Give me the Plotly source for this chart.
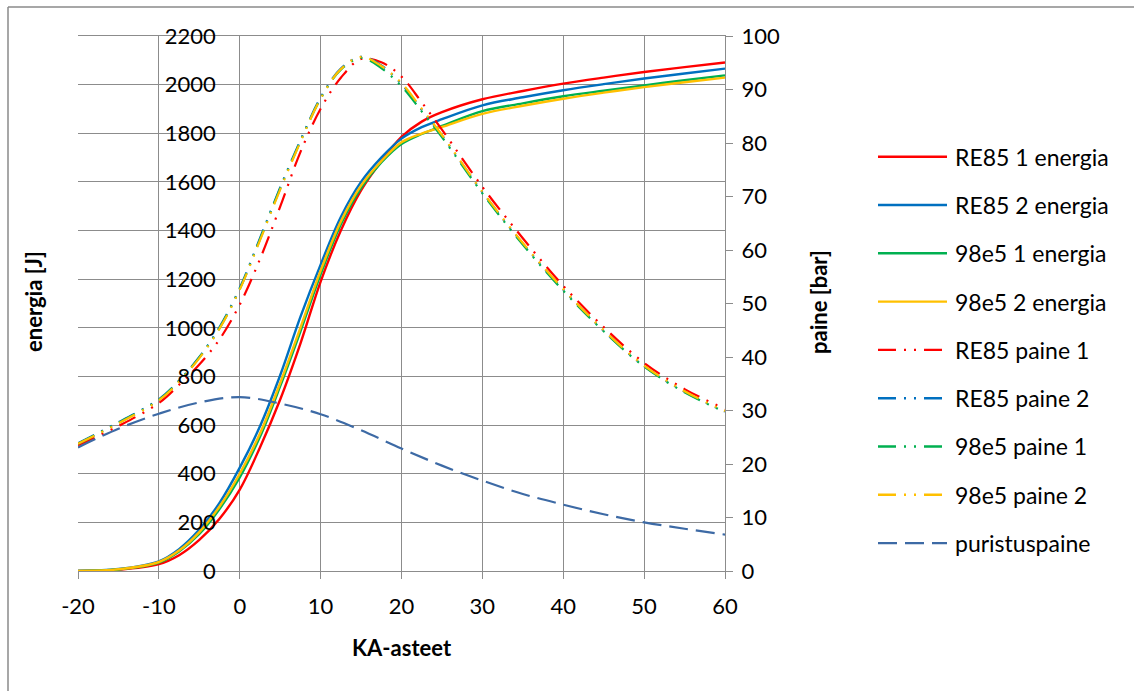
import plotly.graph_objects as go

# ---------------- data ----------------
ka = [-20, -15, -10, -7.5, -5, -2.5, 0, 2.5, 5, 7.5, 10, 12.5, 15, 17.5, 20,
      22.5, 25, 30, 35, 40, 45, 50, 55, 60]

re85_1_energia = [0, 5, 28, 65, 128, 215, 335, 508, 705, 935, 1190, 1400, 1565, 1685, 1785,
                  1848, 1887, 1940, 1974, 2004, 2029, 2052, 2072, 2091]
re85_2_energia = [0, 8, 40, 90, 170, 280, 425, 595, 805, 1045, 1260, 1456, 1600, 1700, 1778,
                  1825, 1858, 1915, 1948, 1977, 2002, 2025, 2046, 2066]
e98_1_energia = [0, 6, 34, 80, 152, 255, 385, 552, 760, 985, 1220, 1425, 1575, 1680, 1756,
                 1797, 1830, 1891, 1923, 1952, 1975, 1997, 2018, 2038]
e98_2_energia = [0, 7, 37, 84, 160, 265, 400, 565, 773, 1000, 1235, 1437, 1585, 1685, 1763,
                 1799, 1826, 1880, 1913, 1942, 1967, 1990, 2010, 2029]

re85_paine_1 = [23.5, 27.1, 31.4, 34.8, 38.6, 43.3, 49.8, 58.3, 68.1, 78.3, 86.4, 92.2, 95.7,
                95.1, 92.4, 87.6, 82.5, 71.8, 62.2, 53.3, 45.6, 38.9, 34.0, 30.3]
re85_paine_2 = [23.9, 27.8, 32.1, 35.6, 40.0, 45.6, 52.9, 62.2, 71.7, 80.5, 88.5, 93.9, 96.1,
                94.5, 91.0, 86.2, 81.4, 70.8, 61.2, 52.6, 44.9, 38.3, 33.5, 29.8]
e98_paine_1 = [23.8, 27.7, 32.0, 35.5, 39.9, 45.4, 52.7, 62.0, 71.5, 80.3, 88.3, 93.7, 95.9,
               94.0, 90.6, 85.9, 81.1, 70.6, 61.0, 52.4, 44.8, 38.2, 33.4, 29.7]
e98_paine_2 = [23.8, 27.6, 31.9, 35.4, 39.8, 45.3, 52.6, 61.8, 71.3, 80.2, 88.3, 93.8, 96.1,
               94.4, 91.2, 86.4, 81.5, 70.9, 61.3, 52.7, 45.0, 38.4, 33.6, 29.9]

ka_p = [-20, -15, -10, -5, 0, 5, 10, 15, 20, 25, 30, 35, 40, 45, 50, 55, 60]
puristuspaine = [23.1, 26.6, 29.4, 31.5, 32.5, 31.3, 29.3, 26.3, 22.9, 19.7, 16.9, 14.4,
                 12.4, 10.6, 9.1, 7.9, 6.8]

x_ticks = [-20, -10, 0, 10, 20, 30, 40, 50, 60]

# ---------------- styling ----------------
RED, BLUE, GREEN, YELLOW, PBLUE = "#FF0000", "#0070C0", "#00B050", "#FFC000", "#3D6AA5"
GRID = "#8C8C8C"
FONT = "Lato, 'Open Sans', sans-serif"
FS = 22
LEG_FS = 23
DASHDOTDOT = "18px,8px,2px,8px,2px,8px"
LONGDASH = "19px,8px"

W, H = 1134, 691
ML, MR, MT, MB = 78, 409, 36, 120
PW, PH = W - ML - MR, H - MT - MB


def px(x):
    return (x - ML) / PW


def py(y):
    return (H - MB - y) / PH


series = [
    ("RE85 1 energia", ka, re85_1_energia, RED, "solid", "y"),
    ("RE85 2 energia", ka, re85_2_energia, BLUE, "solid", "y"),
    ("98e5 1 energia", ka, e98_1_energia, GREEN, "solid", "y"),
    ("98e5 2 energia", ka, e98_2_energia, YELLOW, "solid", "y"),
    ("RE85 paine 1", ka, re85_paine_1, RED, DASHDOTDOT, "y2"),
    ("RE85 paine 2", ka, re85_paine_2, BLUE, DASHDOTDOT, "y2"),
    ("98e5 paine 1", ka, e98_paine_1, GREEN, DASHDOTDOT, "y2"),
    ("98e5 paine 2", ka, e98_paine_2, YELLOW, DASHDOTDOT, "y2"),
    ("puristuspaine", ka_p, puristuspaine, PBLUE, LONGDASH, "y2"),
]

fig = go.Figure()
for name, xs, ys, col, dash, ax in series:
    fig.add_trace(go.Scatter(
        x=xs, y=ys, name=name, mode="lines", yaxis=ax,
        line=dict(color=col, width=2.4 if dash == "solid" else 2.2, dash=dash,
                  shape="spline", smoothing=1.0),
        showlegend=False, hoverinfo="x+y+name"))

# manual legend (Excel-like long sample lines)
shapes = []
annotations = []
leg_y0, leg_step = 156.7, 48.3
for i, (name, xs, ys, col, dash, ax) in enumerate(series):
    yy = py(leg_y0 + i * leg_step)
    shapes.append(dict(type="line", xref="paper", yref="paper",
                       x0=px(878), x1=px(947), y0=yy, y1=yy,
                       line=dict(color=col, width=2.4, dash=dash)))
    annotations.append(dict(xref="paper", yref="paper", x=px(953), y=yy,
                            xanchor="left", yanchor="middle", showarrow=False,
                            text=name, font=dict(family=FONT, size=LEG_FS, color="#000")))

# outer chart border: only the left and top edges fall inside the captured area
shapes.append(dict(type="line", xref="paper", yref="paper", layer="below",
                   x0=px(8), x1=px(8), y0=py(7), y1=py(H + 5),
                   line=dict(color="#8A8A8A", width=1.5)))
shapes.append(dict(type="line", xref="paper", yref="paper", layer="below",
                   x0=px(8), x1=px(W + 5), y0=py(7), y1=py(7),
                   line=dict(color="#8A8A8A", width=1.5)))

# axis titles
annotations += [
    dict(xref="paper", yref="paper", x=px(33), y=py(302), text="<b>energia [J]</b>",
         textangle=-90, showarrow=False, xanchor="center", yanchor="middle",
         font=dict(family=FONT, size=FS, color="#000")),
    dict(xref="paper", yref="paper", x=px(818), y=py(302), text="<b>paine [bar]</b>",
         textangle=-90, showarrow=False, xanchor="center", yanchor="middle",
         font=dict(family=FONT, size=FS, color="#000")),
    dict(xref="paper", yref="paper", x=px(401.5), y=py(647), text="<b>KA-asteet</b>",
         showarrow=False, xanchor="center", yanchor="middle",
         font=dict(family=FONT, size=FS, color="#000")),
]

fig.update_layout(
    width=W, height=H,
    margin=dict(l=ML, r=MR, t=MT, b=MB, autoexpand=False),
    paper_bgcolor="white", plot_bgcolor="white",
    font=dict(family=FONT, size=FS, color="#000"),
    xaxis=dict(range=[-20, 60], tickvals=x_ticks, ticktext=[str(v) for v in x_ticks],
               showgrid=True, gridcolor=GRID, gridwidth=1.3,
               showline=True, linecolor=GRID, linewidth=1.3, mirror=True,
               ticks="outside", ticklen=7, tickcolor=GRID, tickwidth=1.3,
               zeroline=False, ticklabelstandoff=8,
               tickfont=dict(family=FONT, size=FS, color="#000")),
    yaxis=dict(range=[0, 2200], dtick=200, anchor="free", position=0.25,
               showgrid=True, gridcolor=GRID, gridwidth=1.3,
               showline=False, zeroline=False, ticks="",
               ticklabelstandoff=24,
               tickfont=dict(family=FONT, size=FS, color="#000")),
    yaxis2=dict(range=[0, 100], dtick=10, overlaying="y", side="right", anchor="x",
                showgrid=False, zeroline=False,
                showline=True, linecolor=GRID, linewidth=1.3,
                ticks="outside", ticklen=7, tickcolor=GRID, tickwidth=1.3,
                ticklabelstandoff=4,
                tickfont=dict(family=FONT, size=FS, color="#000")),
    shapes=shapes, annotations=annotations,
)

fig.write_html("out.html")
